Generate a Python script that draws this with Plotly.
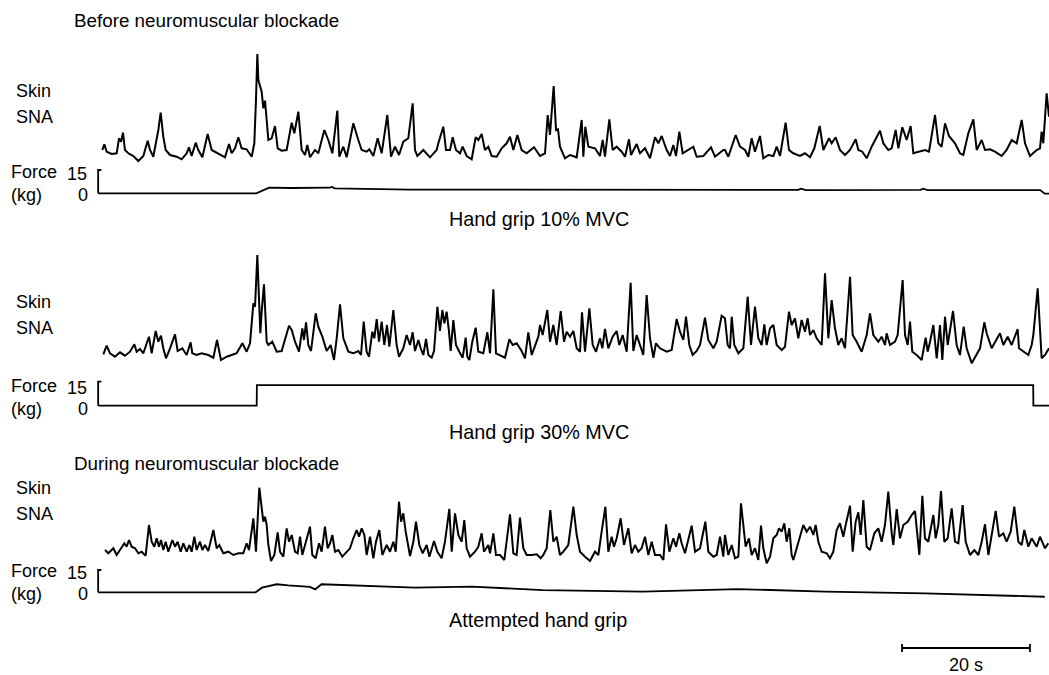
import plotly.graph_objects as go

# ---------------- data (time in s, SNA in arbitrary units, force in kg) ----------------
sna_before_10 = [
    (0.05, 10), (0.36, 15.7), (0.73, 8.3), (1.51, 6), (2.29, 6.7), (2.66, 21.7), (2.97, 18.3), (3.28, 27.3),
    (3.59, 10), (4.11, 6.7), (4.90, 4), (5.68, -1), (6.46, 4), (7.14, 19.3), (7.50, 10), (8.02, 3.3),
    (8.80, 30), (9.17, 47.3), (9.58, 23.3), (9.95, 10), (10.63, 5), (11.67, 3.3), (12.45, 0.7), (13.23, 6.7),
    (13.59, 12.7), (14.01, 4), (14.64, 17.3), (15.05, 10), (15.68, 2.7), (16.51, 26), (17.14, 10), (17.92, 7.3),
    (18.70, 5), (19.22, 2.7), (19.84, 16), (20.26, 6.7), (20.78, 11.7), (21.30, 22.7), (21.82, 11.7), (22.60, 10.7),
    (23.39, 3.3), (23.80, 16.7), (24.06, 60), (24.27, 106), (24.43, 80), (24.69, 73.3), (24.95, 68.3), (25.21, 51.7),
    (25.47, 59.3), (25.73, 40), (25.99, 20), (26.51, 21.7), (27.03, 34), (27.45, 11.7), (28.07, 9.3), (28.85, 10),
    (29.64, 37.3), (30.05, 26.7), (30.68, 48.3), (31.20, 10), (31.72, 5), (32.08, 15), (32.50, 2.7), (33.28, 10),
    (33.80, 6.7), (34.74, 30), (35.36, 20), (35.99, 6.7), (36.77, 49.3), (37.08, 3.3), (37.71, 13.3), (38.23, 2.7),
    (39.27, 36.7), (40.05, 20), (40.57, 10), (41.35, 8.3), (41.77, 10.7), (42.40, 4), (43.07, 21.7), (43.70, 6.7),
    (44.58, 45), (45.16, 3.3), (45.78, 13.3), (46.41, 5), (47.08, 18.3), (47.86, 21.7), (48.54, 56.7), (48.91, 10),
    (49.27, 4), (50.21, 10), (51.25, 2.7), (52.29, 10), (52.55, 16.7), (53.33, 33.3), (53.75, 10), (54.38, 10),
    (54.79, 22.7), (55.31, 10), (55.94, 6.7), (56.35, 13.3), (56.98, 4), (57.76, 0.7), (58.39, 22.7), (58.80, 20),
    (59.32, 26), (59.84, 10), (60.36, 13.3), (60.89, 4), (61.67, 3.3), (62.45, 11.7), (63.23, 16.7), (63.75, 23.3),
    (64.27, 10), (64.90, 25), (65.57, 10), (66.35, 6.7), (67.50, 12.7), (68.44, 4), (69.22, 6.7), (69.64, 45),
    (70.00, 25), (70.57, 74), (70.94, 30), (71.25, 30.7), (71.56, 13.3), (72.34, 1.7), (73.13, 5), (74.17, 2.7),
    (74.95, 40), (75.21, 3.3), (75.52, 33.3), (75.99, 13.3), (77.03, 11.7), (77.81, 4), (78.23, 20), (78.59, 3.3),
    (79.27, 40.7), (79.79, 10), (80.42, 13.3), (81.20, 8.3), (81.72, 3.3), (82.34, 20.7), (82.66, 5), (83.54, 16),
    (84.06, 6.7), (84.84, 11.7), (85.63, 1.7), (86.41, 22.7), (86.93, 16.7), (87.45, 24), (88.23, 10), (88.75, 4),
    (89.27, 15), (89.69, 4), (90.21, 28.3), (90.73, 6.7), (91.61, 10), (92.40, 13.3), (92.92, 3.3), (93.96, 4),
    (95.16, 12.7), (95.78, 3.3), (97.08, 10), (97.34, 10), (97.86, 3.3), (99.01, 25), (99.69, 13.3), (100.47, 10),
    (100.99, 3.3), (101.51, 21.7), (102.03, 8.3), (102.81, 24), (103.33, 1.7), (104.11, 5), (104.90, 4), (105.42, 13.3),
    (105.94, 4), (106.82, 37.3), (107.34, 10), (108.02, 6.7), (109.06, 4), (109.84, 6.7), (110.63, 2.7), (111.30, 11.7),
    (112.14, 34), (112.71, 10), (113.59, 21.7), (114.01, 16.7), (114.64, 22.7), (115.31, 10), (116.09, 5), (116.88, 10),
    (117.76, 20.7), (118.18, 10), (118.80, 8.3), (119.48, 1.7), (120.26, 13.3), (121.56, 29.3), (122.08, 16.7), (122.86, 10),
    (123.39, 11.7), (124.01, 30), (124.43, 11.7), (125.05, 32.7), (125.73, 20), (126.35, 34), (126.77, 6.7), (127.55, 8.3),
    (128.59, 10), (129.22, 8.3), (130.16, 45), (130.68, 16.7), (131.20, 13.3), (131.72, 36.7), (132.34, 24), (133.28, 16.7),
    (134.06, 6.7), (134.58, 5), (135.36, 26.7), (136.15, 40.7), (136.67, 10), (137.45, 20), (137.97, 10), (138.75, 10.7),
    (139.53, 8.3), (140.57, 4), (141.35, 10), (142.14, 20), (142.92, 16.7), (143.70, 40), (144.22, 16.7), (145.00, 4),
    (146.04, 10), (146.56, 11.7), (146.82, 28.3), (147.08, 16.7), (147.60, 66.7), (147.97, 43.3),
]

sna_before_30 = [
    (0.21, 7.7), (0.73, 16.3), (1.25, 8.7), (2.03, 5.3), (2.81, 9.7), (3.59, 6.3), (4.38, 10.3), (5.05, 17.7),
    (5.42, 10.3), (5.94, 13), (6.46, 8.7), (7.34, 25.3), (7.76, 8.7), (8.39, 31), (8.80, 20.3), (9.22, 26.3),
    (9.58, 13.7), (10.00, 3.7), (10.63, 13.7), (11.41, 27.7), (11.82, 11), (12.55, 13.7), (13.23, 7), (13.85, 19.7),
    (14.11, 8.7), (14.79, 7), (15.57, 8.7), (16.61, 7), (17.40, 4.3), (17.97, 22), (18.59, 2), (19.48, 5.3),
    (20.26, 7), (21.04, 8.7), (21.93, 18.7), (22.60, 10.3), (23.13, 18.7), (23.65, 58.7), (23.91, 55.3), (24.27, 107),
    (24.53, 63.7), (24.74, 28.7), (24.95, 50.3), (25.31, 77.7), (25.73, 20.3), (25.99, 17), (26.61, 20.3), (27.29, 10.3),
    (28.07, 11), (28.59, 23.7), (29.22, 36.3), (29.64, 32), (30.16, 20.3), (30.78, 10.3), (31.30, 33.7), (31.56, 22),
    (31.88, 39.7), (32.24, 17), (32.66, 11), (33.39, 48.7), (33.80, 35.3), (34.43, 25.3), (35.10, 11), (35.73, 17),
    (36.25, 2), (36.67, 23.7), (37.19, 57.7), (37.71, 23.7), (38.49, 10.3), (39.27, 8.7), (40.05, 11), (40.47, 7),
    (40.89, 40.3), (41.35, 10.3), (41.72, 5.3), (42.24, 30.3), (42.55, 23.7), (42.92, 43), (43.28, 20.3), (43.70, 40.3),
    (44.11, 17), (44.53, 37), (44.90, 15.3), (45.52, 52), (46.04, 17), (46.41, 5.3), (47.08, 13.7), (47.60, 27),
    (48.13, 17), (48.54, 29.7), (48.91, 11), (49.43, 22), (49.79, 13.7), (50.21, 7), (50.63, 23), (50.99, 7),
    (51.51, 4.3), (51.88, 11), (52.40, 55.3), (52.81, 31), (53.18, 52), (53.49, 38.7), (53.85, 50.3), (54.22, 30.3),
    (54.48, 11), (54.90, 42), (55.31, 17), (55.83, 10.3), (56.35, 4.3), (56.82, 24.3), (57.08, 5.3), (57.40, 2),
    (57.86, 20.3), (58.39, 34.3), (58.80, 10.3), (59.58, 8.7), (60.21, 29.7), (60.63, 8.7), (61.15, 72.7), (61.56, 8.7),
    (62.19, 7), (62.97, 4.3), (63.65, 22.7), (64.17, 17), (64.79, 18.7), (65.57, 11), (66.09, 3.7), (66.61, 29.7),
    (67.14, 7), (67.66, 17), (68.18, 25.3), (68.44, 37), (68.85, 27), (69.58, 52), (70.00, 20.3), (70.52, 37),
    (71.04, 17), (71.67, 51), (72.19, 20.3), (72.60, 30.3), (73.13, 25.3), (73.65, 31), (74.17, 13.7), (74.69, 10.3),
    (75.00, 49.7), (75.47, 10.3), (76.15, 53.7), (76.67, 17), (77.19, 10.3), (77.81, 23.7), (78.18, 13.7), (78.59, 33),
    (79.11, 13.7), (79.79, 25.3), (80.42, 31), (80.83, 17), (81.35, 27), (81.98, 10.3), (82.60, 79.3), (83.02, 11),
    (83.54, 27), (84.06, 17), (84.58, 7), (85.10, 67), (85.63, 23.7), (86.15, 4.3), (86.56, 18.7), (87.19, 13.7),
    (88.23, 10.3), (89.01, 12), (89.79, 43), (90.31, 30.3), (90.83, 22), (91.25, 45.3), (91.77, 17), (92.29, 7),
    (92.92, 11), (93.44, 17), (94.22, 44.3), (94.74, 22), (95.52, 13.7), (96.04, 20.3), (96.82, 46.3), (97.34, 43.7),
    (97.76, 17), (98.13, 13.7), (98.39, 45.3), (98.80, 17), (99.43, 8.7), (100.21, 13.7), (100.89, 65.3), (101.41, 17),
    (102.03, 55.3), (102.55, 23.7), (103.07, 17), (103.49, 37.7), (103.85, 17), (104.38, 33.7), (104.90, 37), (105.42, 17),
    (106.20, 12), (106.72, 15.3), (107.34, 50.3), (107.76, 37), (108.28, 43.7), (108.80, 23.7), (109.32, 42), (109.84, 30.3),
    (110.26, 43.7), (110.63, 27), (111.15, 32), (111.67, 23.7), (112.45, 17), (112.97, 88.7), (113.49, 23.7), (114.01, 62),
    (114.53, 33.7), (115.05, 17), (115.57, 23.7), (116.09, 13.7), (116.88, 85.3), (117.29, 27), (117.92, 20.3), (118.70, 10.3),
    (119.48, 27), (120.00, 48.7), (120.52, 27), (121.30, 20.3), (121.82, 25.3), (122.34, 17), (122.60, 28.7), (123.13, 17),
    (123.91, 20.3), (124.32, 27), (125.10, 82), (125.47, 27), (125.89, 17), (126.25, 40.3), (126.61, 10.3), (127.29, 7),
    (128.07, 2), (128.70, 24.3), (129.01, 10.3), (129.38, 20.3), (129.90, 37), (130.42, 3.7), (130.94, 37), (131.30, 2),
    (131.72, 45.3), (132.14, 17), (132.97, 51), (133.54, 17), (134.06, 7), (134.64, 35.3), (135.10, 13.7), (135.89, -1.3),
    (136.67, 7), (137.19, 13.7), (137.86, 39.7), (138.23, 28.7), (139.01, 13.7), (139.53, 20.3), (140.31, 28.7), (140.83, 17),
    (141.51, 25.3), (142.14, 17), (143.07, 33), (143.28, 13.7), (143.96, 10.3), (144.74, 7), (145.26, 17), (145.52, 27),
    (146.20, 73.7), (146.56, 37), (146.82, 3.7), (147.34, 7), (147.97, 13.7),
]

sna_during = [
    (0.47, 15), (0.99, 11.7), (1.77, 16.7), (2.29, 10), (2.81, 15), (3.49, 21.7), (3.85, 18.3), (4.22, 25),
    (4.64, 18.3), (5.16, 16.7), (5.68, 11.7), (6.20, 13.3), (6.82, 9.3), (7.34, 40), (7.76, 23.3), (8.18, 18.3),
    (8.54, 26.7), (8.91, 18.3), (9.22, 25), (9.58, 15), (9.95, 23.3), (10.36, 13.3), (10.99, 25), (11.41, 18.3),
    (11.82, 23.3), (12.29, 13.3), (12.71, 21.7), (13.23, 13.3), (13.65, 20), (14.01, 13.3), (14.43, 28.3), (14.79, 15),
    (15.31, 23.3), (15.68, 15), (16.09, 20), (16.61, 14), (17.40, 35), (17.92, 16.7), (18.33, 20), (18.96, 11.7),
    (19.74, 13.3), (20.52, 10), (21.30, 11.7), (22.08, 11.7), (22.60, 21.7), (22.97, 15), (23.65, 46.7), (24.06, 13.3),
    (24.58, 77.3), (24.95, 53.3), (25.21, 43.3), (25.47, 48.3), (25.73, 40), (25.99, 20), (26.41, 4), (26.93, 10),
    (27.45, 32.7), (27.81, 13.3), (28.33, 8.3), (28.85, 36.7), (29.22, 23.3), (29.64, 30), (30.16, 13.3), (30.57, 11.7),
    (30.94, 28.3), (31.30, 10), (31.82, 23.3), (32.50, 38.3), (32.86, 10), (33.39, 6.7), (33.91, 21.7), (34.32, 13.3),
    (34.84, 38.3), (35.26, 16.7), (35.63, 21.7), (35.99, 30), (36.41, 13.3), (36.93, 15), (37.55, 8.3), (38.23, 13.3),
    (38.75, 16.7), (39.27, 26.7), (39.79, 35), (40.16, 28.3), (40.57, 36.7), (40.99, 30), (41.35, 10), (41.88, 28.3),
    (42.40, 6.7), (42.81, 23.3), (43.33, 35), (43.80, 10), (44.48, 20), (45.00, 13.3), (45.52, 23.3), (45.89, 13.3),
    (46.41, 63.3), (46.72, 43.3), (47.08, 51.7), (47.45, 33.3), (47.86, 20), (48.13, 9), (48.65, 23.3), (49.06, 43.3),
    (49.58, 20), (50.10, 11.7), (50.73, 20), (51.15, 8.3), (51.88, 24), (52.40, 13.3), (53.07, 6.7), (53.59, 23.3),
    (54.27, 56), (54.64, 13.3), (55.16, 51.7), (55.68, 30), (56.20, 23.3), (56.61, 45), (56.98, 16.7), (57.50, 8.3),
    (58.28, 13.3), (58.80, 18.3), (59.32, 31.7), (59.69, 13.3), (60.36, 20), (60.63, 11.7), (61.15, 31.7), (61.56, 10),
    (62.19, 10), (62.86, 5), (63.75, 50.7), (64.27, 11.7), (64.79, 10), (65.31, 47.3), (65.83, 16.7), (66.35, 10),
    (67.14, 10), (67.92, 10.7), (68.54, 6.7), (68.96, 10), (69.48, 16.7), (70.05, 55), (70.52, 23.3), (71.04, 28.3),
    (71.56, 10), (72.08, 13.3), (72.86, 20), (73.65, 58.3), (74.17, 30), (74.69, 13.3), (75.47, 8.3), (76.25, 4),
    (77.03, 13.3), (77.55, 10), (78.07, 33.3), (78.65, 58.3), (79.11, 13.3), (79.64, 28.3), (80.00, 18.3), (80.42, 26.7),
    (81.04, 46.7), (81.56, 20), (82.24, 36.7), (82.76, 11.7), (83.28, 20), (83.80, 13.3), (84.32, 16.7), (84.84, 28.3),
    (85.36, 10), (85.89, 23.3), (86.41, 10), (87.19, 10), (87.71, 5), (88.13, 40.7), (88.65, 13.3), (89.27, 26.7),
    (89.69, 18.3), (90.21, 31.7), (90.57, 21.7), (91.09, 11.7), (92.14, 39.3), (92.66, 13.3), (93.44, 16.7), (94.27, 43.3),
    (94.74, 13.3), (95.52, 8.3), (96.04, 10), (96.56, 28.3), (97.08, 8.3), (97.34, 30), (97.86, 10), (98.39, 20),
    (98.91, 6.7), (99.43, 8.3), (99.84, 61.7), (100.21, 40), (100.57, 18.3), (101.09, 26.7), (101.51, 10), (102.03, 16.7),
    (102.55, 5), (102.97, 39.3), (103.33, 16.7), (103.85, 1.7), (104.38, 8.3), (104.90, 26.7), (105.42, 30), (105.78, 36.7),
    (106.20, 33.3), (106.61, 41.7), (106.98, 23.3), (107.40, 36.7), (107.76, 10), (108.02, 5), (108.54, 16.7), (109.06, 26.7),
    (109.58, 40), (110.10, 33.3), (110.63, 38.3), (111.15, 30), (111.51, 40), (111.93, 23.3), (112.45, 13.3), (113.23, 11.7),
    (113.75, 6.7), (114.27, 13.3), (114.79, 35), (115.31, 41.7), (115.83, 28.3), (116.20, 40), (116.88, 59.3), (117.29, 13.3),
    (117.76, 43.3), (118.18, 52.7), (118.54, 30), (118.96, 65), (119.48, 18.3), (120.00, 15), (120.68, 31.7), (121.30, 36.7),
    (121.82, 23.3), (122.34, 40), (122.86, 73.3), (123.39, 31.7), (123.65, 20), (124.17, 56), (124.69, 26.7), (125.21, 40),
    (125.89, 43.3), (126.51, 50), (127.03, 54), (127.71, 10), (128.18, 69.3), (128.59, 26.7), (129.11, 23.3), (129.90, 50),
    (130.26, 26.7), (130.68, 40), (131.09, 74), (131.61, 23.3), (132.14, 26.7), (132.76, 56.7), (133.28, 23.3), (133.80, 21.7),
    (134.48, 60), (134.95, 23.3), (135.63, 10), (136.30, 15), (136.93, 10), (137.45, 23.3), (137.97, 40.7), (138.49, 10),
    (139.01, 30), (139.64, 54), (140.16, 28.3), (140.83, 31.7), (141.35, 23.3), (141.98, 33.3), (142.55, 58.3), (143.18, 23.3),
    (143.70, 20), (144.11, 35), (144.74, 18.3), (145.26, 26.7), (146.04, 18.3), (146.56, 28.3), (147.34, 16.7), (147.86, 21.7),
]

force_10 = [(-0.6, 0), (24.1, 0), (24.8, 1.2), (26.1, 3.6), (29.4, 3.4), (35.6, 3.6), (35.9, 4.1), (36.4, 3.2),
            (48.1, 2.4), (77.8, 2.1), (108.8, 2.2), (109.2, 3.0), (110.0, 2.1), (127.9, 2.2), (128.3, 3.0),
            (129.0, 2.1), (146.6, 2.1), (147.3, -0.2), (147.97, -0.2)]
force_30 = [(-0.6, 0), (24.17, 0), (24.2, 12.9), (145.5, 12.9), (145.53, 0), (147.97, 0)]
force_attempt = [(-0.6, 0), (24.0, 0), (25.0, 3.1), (27.3, 5.4), (29.1, 4.6), (32.5, 3.6), (33.3, 2.0), (34.3, 5.4),
                 (48.9, 3.1), (57.8, 3.8), (68.9, 1.5), (84.5, 0.4), (99.4, 2.2), (113.0, 0.4), (128.6, -0.7),
                 (147.3, -3.0)]

force_cal_kg = [0, 15]          # calibration bracket, kg
scale_bar_s = 20                # time calibration, s

panel_titles = ["Before neuromuscular blockade", "During neuromuscular blockade"]
grip_labels = ["Hand grip 10% MVC", "Hand grip 30% MVC", "Attempted hand grip"]

# ---------------- layout constants ----------------
W, H = 1049, 675
T0_PX, PX_PER_S = 102.0, 6.4
FAMILY = "Liberation Sans, Arial, Helvetica, sans-serif"

rows = {
    "y":  (160.0, 1.0),     # SNA 1
    "y2": (193.3, 1.553),   # force 1
    "y3": (362.0, 1.0),     # SNA 2
    "y4": (405.7, 1.6),     # force 2
    "y5": (565.0, 1.0),     # SNA 3
    "y6": (592.3, 1.487),   # force 3
}


def yrange(base, k):
    return [(base - H) / k, base / k]


fig = go.Figure()


def add_line(pairs, axis, width):
    fig.add_trace(go.Scatter(
        x=[p[0] for p in pairs], y=[p[1] for p in pairs], yaxis=axis, mode="lines",
        line=dict(color="black", width=width), hoverinfo="skip", showlegend=False))


add_line(sna_before_10, "y", 2.0)
add_line(force_10, "y2", 1.8)
add_line(sna_before_30, "y3", 2.0)
add_line(force_30, "y4", 1.8)
add_line(sna_during, "y5", 2.0)
add_line(force_attempt, "y6", 1.8)

for ax in ("y2", "y4", "y6"):
    fig.add_trace(go.Scatter(
        x=[-0.1, -0.6, -0.6], y=[force_cal_kg[1], force_cal_kg[1], force_cal_kg[0]], yaxis=ax,
        mode="lines", line=dict(color="black", width=1.8), hoverinfo="skip", showlegend=False))

layout = dict(
    width=W, height=H, margin=dict(l=0, r=0, t=0, b=0),
    paper_bgcolor="white", plot_bgcolor="white", showlegend=False,
    xaxis=dict(domain=[0, 1], range=[-T0_PX / PX_PER_S, (W - T0_PX) / PX_PER_S], visible=False, fixedrange=True),
)
for ax, (base, k) in rows.items():
    name = "yaxis" if ax == "y" else "yaxis" + ax[1:]
    d = dict(domain=[0, 1], range=yrange(base, k), visible=False, fixedrange=True)
    if ax != "y":
        d["overlaying"] = "y"
    layout[name] = d
fig.update_layout(**layout)


def note(text, x, y, size=18, anchor="left"):
    fig.add_annotation(text=text, x=x / W, y=1 - y / H, xref="paper", yref="paper",
                       xanchor=anchor, yanchor="middle", showarrow=False, borderpad=0,
                       font=dict(family=FAMILY, size=size, color="black"))


note(panel_titles[0], 73, 20, 18.8)
note(panel_titles[1], 73, 463, 18.8)
for sy, fy in ((91, 172), (302, 386), (488, 571)):
    note("Skin", 15, sy, 18)
    note("SNA", 15, sy + 26, 18)
    note("Force", 10, fy, 18)
    note("15", 66, fy + 2, 18)
    note("(kg)", 10, fy + 23, 18)
    note("0", 77, fy + 23, 18)
note(grip_labels[0], 448, 219, 19.8)
note(grip_labels[1], 448, 432, 19.8)
note(grip_labels[2], 448, 620, 19.8)

# time scale bar
t_end = (1030 - T0_PX) / PX_PER_S
t_start = t_end - scale_bar_s
yb = 1 - 648 / H
tick = 4 / H
fig.add_shape(type="line", xref="x", yref="paper", x0=t_start, x1=t_end, y0=yb, y1=yb,
              line=dict(color="black", width=1.8))
for tx in (t_start, t_end):
    fig.add_shape(type="line", xref="x", yref="paper", x0=tx, x1=tx, y0=yb - tick, y1=yb + tick,
                  line=dict(color="black", width=1.8))
fig.add_annotation(text=f"{scale_bar_s} s", x=(t_start + t_end) / 2, y=1 - 665 / H, xref="x", yref="paper",
                   xanchor="center", yanchor="middle", showarrow=False, borderpad=0,
                   font=dict(family=FAMILY, size=18, color="black"))

fig.write_html("out.html")
